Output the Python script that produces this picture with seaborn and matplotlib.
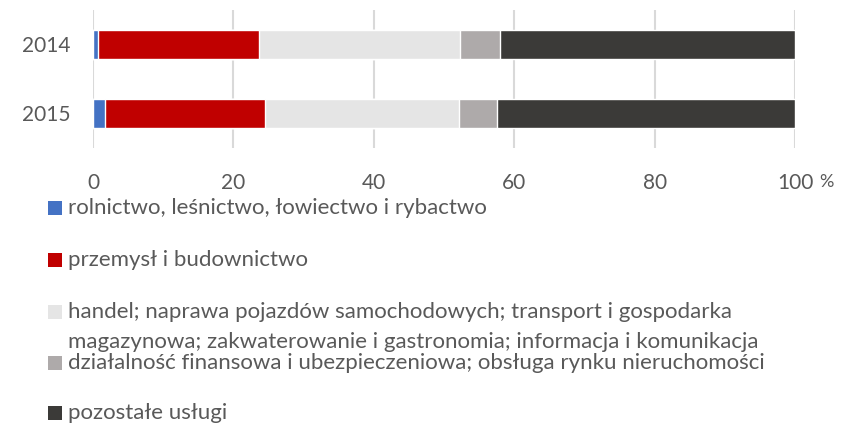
import numpy as np
import pandas as pd
import matplotlib
matplotlib.use("Agg")
import matplotlib.pyplot as plt
from matplotlib.patches import Rectangle
import matplotlib.transforms as mtransforms
import seaborn as sns

years = ['2014', '2015']
sectors = ['rolnictwo, leśnictwo, łowiectwo i rybactwo',
           'przemysł i budownictwo',
           'handel; naprawa pojazdów samochodowych; transport i gospodarka\nmagazynowa; zakwaterowanie i gastronomia; informacja i komunikacja',
           'działalność finansowa i ubezpieczeniowa; obsługa rynku nieruchomości',
           'pozostałe usługi']
rolnictwo = [0.7, 1.7]
przemysl = [23.0, 22.8]
handel = [28.6, 27.6]
finanse = [5.7, 5.4]
pozostale = [42.0, 42.5]
colors = ['#4472C4', '#C00000', '#E5E5E5', '#AEAAAA', '#3B3A38']

sns.set_style("white")
plt.rcParams['font.family'] = ['Lato', 'DejaVu Sans']
txt_color = '#595959'

values = np.array([rolnictwo, przemysl, handel, finanse, pozostale])
cum = values.cumsum(axis=0)

W, H = 861, 425
fig = plt.figure(figsize=(W / 100, H / 100), dpi=100)
ax = fig.add_axes([93 / W, 1 - 148 / H, 702 / W, 138 / H])

# stacked bars: longest cumulative first, then the shorter ones on top
for i in range(len(sectors) - 1, -1, -1):
    df = pd.DataFrame({'rok': years, 'val': cum[i]})
    sns.barplot(data=df, x='val', y='rok', orient='h', color=colors[i],
                width=0.41, saturation=1, ax=ax, zorder=3)

ax.set_xlim(0, 100)
ax.set_xticks([0, 20, 40, 60, 80, 100])
ax.xaxis.grid(True, color='#D9D9D9', linewidth=1.5, zorder=0)
ax.set_axisbelow(True)
for s in ax.spines.values():
    s.set_visible(False)
ax.set_xlabel('')
ax.set_ylabel('')
ax.tick_params(axis='both', length=0, labelsize=15, labelcolor=txt_color)
ax.tick_params(axis='x', pad=18)
ax.tick_params(axis='y', pad=16)

trans = mtransforms.blended_transform_factory(ax.transData, ax.transAxes)
ax.text(103.5, -0.245, '%', transform=trans, fontsize=13, color=txt_color,
        va='center', ha='left')

# legend, laid out like the original (one entry per row)
rows_y = [208, 260, 327, 363, 413]
box_y = [208, 260, 312, 363, 413]
for i, lab in enumerate(sectors):
    fig.add_artist(Rectangle((48 / W, 1 - (box_y[i] + 7) / H), 14 / W, 14 / H,
                             transform=fig.transFigure, color=colors[i], lw=0))
    fig.text(68 / W, 1 - rows_y[i] / H, lab, fontsize=16, color=txt_color,
             va='center', linespacing=1.57)

fig.savefig('out.png', dpi=100)
